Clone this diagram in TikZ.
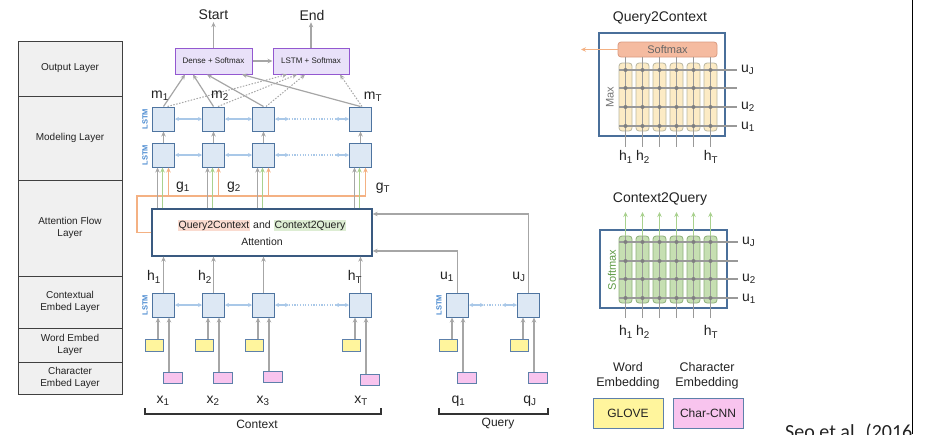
\documentclass[tikz,border=0pt]{standalone}
\usepackage{fontspec}
\setmainfont{Liberation Sans}
\newfontfamily\carlito{Carlito}
\usetikzlibrary{arrows.meta,calc}
\newcommand{\fsz}[2]{\fontsize{#1}{#2}\selectfont}
\setlength{\fboxsep}{1pt}
\definecolor{txt}{HTML}{222222}
\definecolor{lstmfill}{HTML}{DDE8F4}
\definecolor{lstmdraw}{HTML}{4E74A0}
\definecolor{lstmtxt}{HTML}{4A8AD0}
\definecolor{attdraw}{HTML}{3A5A80}
\definecolor{yel}{HTML}{FFF59D}
\definecolor{pnk}{HTML}{F8C4EE}
\definecolor{embdraw}{HTML}{5D80AA}
\definecolor{outfill}{HTML}{E9E1F9}
\definecolor{outdraw}{HTML}{9358D0}
\definecolor{org}{HTML}{F4B183}
\definecolor{barF}{HTML}{F5BBA0}
\definecolor{barD}{HTML}{D99A80}
\definecolor{grn}{HTML}{A9D18E}
\definecolor{arrgray}{HTML}{A6A6A6}
\definecolor{hblue}{HTML}{A9C8E8}
\definecolor{ycolF}{HTML}{FCEBC5}
\definecolor{ycolD}{HTML}{B9B6A0}
\definecolor{gcolF}{HTML}{C6DFB2}
\definecolor{gcolD}{HTML}{8DAE7A}
\definecolor{q2cbg}{HTML}{FADBD0}
\definecolor{c2qbg}{HTML}{DDEDD3}
\definecolor{panel}{HTML}{4A6F9A}
\definecolor{dotc}{HTML}{7F7F7F}
\definecolor{softg}{HTML}{5E9A45}
\tikzset{
  layerbox/.style={draw=black!75, fill=black!6, line width=0.9pt, minimum width=104pt, inner sep=0pt, align=center, text=txt, font=\fsz{10}{12.5}},
  lstmbox/.style={draw=lstmdraw, fill=lstmfill, line width=1pt, minimum width=22pt, minimum height=24pt, inner sep=0pt},
  lstmlab/.style={rotate=90, font=\fsz{7.5}{8}\bfseries, text=lstmtxt, inner sep=0pt},
  wemb/.style={draw=embdraw, fill=yel, line width=0.9pt, minimum width=18pt, minimum height=12pt, inner sep=0pt},
  cemb/.style={draw=embdraw, fill=pnk, line width=0.9pt, minimum width=19pt, minimum height=11pt, inner sep=0pt},
  outbox/.style={draw=outdraw, fill=outfill, line width=1pt, minimum height=26pt, inner sep=0pt, text=txt, font=\fsz{8}{10}},
  tip/.style={-{Stealth[length=5pt,width=4.5pt]}},
  garr/.style={draw=arrgray, line width=1.2pt, tip},
  gline/.style={draw=arrgray, line width=1.2pt},
  dotarr/.style={draw=arrgray, line width=1pt, dash pattern=on 1.5pt off 1.5pt, tip},
  grarr/.style={draw=grn, line width=1.2pt, tip},
  oarr/.style={draw=org, line width=1.2pt, tip},
  oline/.style={draw=org, line width=1.2pt},
  harr/.style={draw=hblue, line width=1.2pt, {Stealth[length=4pt,width=4pt]}-{Stealth[length=4pt,width=4pt]}},
  hdot/.style={draw=hblue, line width=1.2pt, dash pattern=on 1.2pt off 1.5pt},
  lab/.style={font=\fsz{14}{16}, inner sep=0pt, text=txt},
  brace/.style={draw=black!80, line width=1.2pt},
  colY/.style={draw=ycolD, fill=ycolF, rounded corners=3pt, line width=0.8pt, minimum width=13pt, inner sep=0pt},
  colG/.style={draw=gcolD, fill=gcolF, rounded corners=3pt, line width=0.8pt, minimum width=13pt, inner sep=0pt},
  pline/.style={draw=black!40, line width=1.2pt},
}
\begin{document}
\begin{tikzpicture}[x=1pt,y=-1pt]
\useasboundingbox (0,0) rectangle (928,434);

% ---------- layer column ----------
\node[layerbox, minimum height=55pt] (lOut) at (70,68.5) {Output Layer};
\node[layerbox, minimum height=84pt] (lMod) at (70,138) {Modeling Layer};
\node[layerbox, minimum height=96pt] (lAtt) at (70,228) {Attention Flow\\Layer};
\node[layerbox, minimum height=52pt] (lCtx) at (70,302) {Contextual\\Embed Layer};
\node[layerbox, minimum height=34pt] (lWrd) at (70,345) {Word Embed\\Layer};
\node[layerbox, minimum height=32pt] (lChr) at (70,378) {Character\\Embed Layer};

% ---------- output layer ----------
\node[outbox, minimum width=77pt] (dense) at (213.5,61) {Dense + Softmax};
\node[outbox, minimum width=76pt] (lstmsm) at (311,61) {LSTM + Softmax};
\node[font=\fsz{14}{16}, text=txt, inner sep=2pt] (start) at (213.5,15) {Start};
\node[font=\fsz{14}{16}, text=txt, inner sep=2pt] (end) at (312,15) {End};
\draw[garr] (dense.north) -- (start.south);
\draw[garr] (lstmsm.north) -- (lstmsm.north |- end.south);
\draw[garr] (dense.east) -- (lstmsm.west);

% ---------- context LSTMs and embeddings ----------
\foreach \i/\x in {1/163.5,2/213.5,3/263.5,4/360.5} {
  \node[lstmbox] (mt\i) at (\x,119) {};
  \node[lstmbox] (mb\i) at (\x,155) {};
  \node[lstmbox] (c\i) at (\x,305) {};
  \node[wemb] (w\i) at (\x-9.5,345) {};
  \draw[garr] ([xshift=4pt]w\i.north) -- ([xshift=-5.5pt]c\i.south);
  \draw[garr] (mb\i.north) -- (mt\i.south);
}
\foreach \i/\x/\y in {1/173/377.5,2/223/377.5,3/273/376.5,4/370/380} {
  \node[cemb] (ch\i) at (\x,\y) {};
  \draw[garr] ([xshift=-4pt]ch\i.north) -- ([xshift=5.5pt]c\i.south);
}
% query
\foreach \i/\x in {1/457.5,2/528.5} {
  \node[lstmbox] (q\i) at (\x,305) {};
  \node[wemb] (qw\i) at (\x-9.5,345.5) {};
  \node[cemb] (qch\i) at (\x+9.5,377.5) {};
  \draw[garr] ([xshift=4pt]qw\i.north) -- ([xshift=-5.5pt]q\i.south);
  \draw[garr] ([xshift=-4pt]qch\i.north) -- ([xshift=5.5pt]q\i.south);
}

% LSTM labels
\node[lstmlab] (lsA) at ([xshift=-7pt]mt1.west) {LSTM};
\node[lstmlab] (lsB) at ([xshift=-7pt]mb1.west) {LSTM};
\node[lstmlab] (lsC) at ([xshift=-7pt]c1.west) {LSTM};
\node[lstmlab] (lsD) at ([xshift=-7pt]q1.west) {LSTM};

% horizontal bidirectional arrows
\foreach \r in {mt,mb,c} {
  \draw[harr] (\r1.east) -- (\r2.west);
  \draw[harr] (\r2.east) -- (\r3.west);
  \draw[harr] (\r3.east) -- ([xshift=14pt]\r3.east);
  \draw[hdot] ([xshift=14pt]\r3.east) -- ([xshift=-14pt]\r4.west);
  \draw[harr] ([xshift=-14pt]\r4.west) -- (\r4.west);
}
\draw[harr] (q1.east) -- ([xshift=15pt]q1.east);
\draw[hdot] ([xshift=15pt]q1.east) -- ([xshift=-15pt]q2.west);
\draw[harr] ([xshift=-15pt]q2.west) -- (q2.west);

% modeling -> output
\draw[garr] (mt1.north) -- ([xshift=-28.5pt]dense.south);
\draw[garr] (mt2.north) -- ([xshift=-20.5pt]dense.south);
\draw[garr] (mt3.north) -- ([xshift=-6.5pt]dense.south);
\draw[garr] (mt4.north) -- ([xshift=28.5pt]dense.south);
\draw[dotarr] ([xshift=4pt]mt1.north) -- ([xshift=-24pt]lstmsm.south);
\draw[dotarr] ([xshift=4.5pt]mt2.north) -- ([xshift=-14pt]lstmsm.south);
\draw[dotarr] ([xshift=2.5pt]mt3.north) -- ([xshift=-6pt]lstmsm.south);
\draw[dotarr] ([xshift=1.5pt]mt4.north) -- ([xshift=29pt]lstmsm.south);

% ---------- attention ----------
\node[draw=attdraw, fill=white, line width=1.3pt, minimum width=220pt, minimum height=47pt, align=center, text=txt, font=\fsz{10.5}{17}] (att) at (262,232.5)
  {\colorbox{q2cbg}{Query2Context} and \colorbox{c2qbg}{Context2Query}\\Attention};

\coordinate (oA) at (137,196);
\foreach \i in {1,...,4} {
  \coordinate (ga\i) at ([xshift=-6pt]mb\i.south);
  \coordinate (gg\i) at ([xshift=-1pt]mb\i.south);
  \coordinate (go\i) at ([xshift=5pt]mb\i.south);
}
\draw[oline] (att.west) -| (oA) -- (go4 |- oA);
\foreach \i in {1,...,4} {
  \draw[garr] (ga\i |- att.north) -- (ga\i);
  \draw[grarr] (gg\i |- att.north) -- (gg\i);
  \draw[oarr] (go\i |- oA) -- (go\i);
  \draw[garr] (c\i.north) -- (c\i.north |- att.south);
}
\draw[garr] (q1.north) |- ([yshift=-18.5pt]att.east);
\draw[garr] (q2.north) |- ([yshift=18.5pt]att.east);

% ---------- labels ----------
\node[lab] (m1) at (160,96) {m\textsubscript{1}};
\node[lab] (m2) at (220,96) {m\textsubscript{2}};
\node[lab] (mT) at (373,97) {m\textsubscript{T}};
\node[lab] (g1) at (183,187) {g\textsubscript{1}};
\node[lab] (g2) at (234,187) {g\textsubscript{2}};
\node[lab] (gT) at (383,188) {g\textsubscript{T}};
\node[lab] (h1) at (154,277) {h\textsubscript{1}};
\node[lab] (h2) at (205,277) {h\textsubscript{2}};
\node[lab] (hT) at (355,277) {h\textsubscript{T}};
\node[lab] (u1) at (447,277) {u\textsubscript{1}};
\node[lab] (uJ) at (519,277) {u\textsubscript{J}};
\node[lab] (x1) at (163,401) {x\textsubscript{1}};
\node[lab] (x2) at (213,401) {x\textsubscript{2}};
\node[lab] (x3) at (263,401) {x\textsubscript{3}};
\node[lab] (xT) at (361,401) {x\textsubscript{T}};
\node[lab] (qa) at (458.5,401) {q\textsubscript{1}};
\node[lab] (qb) at (530,401) {q\textsubscript{J}};

% braces
\draw[brace] (145,408) -- (145,414) -- (381,414) -- (381,408);
\node[font=\fsz{12}{14}, text=txt] (ctxlab) at (257,424) {Context};
\draw[brace] (439,408) -- (439,414) -- (548,414) -- (548,408);
\node[font=\fsz{12}{14}, text=txt] (qlab) at (498,424) {Query};

% ---------- Query2Context panel ----------
\node[font=\fsz{14}{16}, text=txt] (q2ct) at (660,18) {Query2Context};
\node[draw=panel, line width=1.1pt, minimum width=126pt, minimum height=103pt, inner sep=0pt] (q2cbox) at (662,84.5) {};
\node[draw=barD, fill=barF, rounded corners=3pt, line width=0.8pt, minimum width=99pt, minimum height=15pt, inner sep=0pt, font=\fsz{11}{12}, text=black!60] (q2csm) at (667.5,49.5) {Softmax};
\foreach \k in {0,...,5} {
  \node[colY, minimum height=68pt] (qc\k) at (625.5+17*\k,97) {};
}
\foreach \k in {0,...,5} {
  \draw[pline] (625.5+17*\k,57) -- (625.5+17*\k,147);
}
\foreach \y in {70,88,107,126} {
  \draw[pline] (619,\y) -- (737,\y);
  \foreach \k in {0,...,5} { \fill[dotc] (625.5+17*\k,\y) circle (2pt); }
}
\node[rotate=90, font=\fsz{11}{12}, text=black!55] (maxl) at (610,97) {Max};
\coordinate (q2cout) at (581,49.5);
\draw[oarr] (q2csm.west) -- (q2cout);
\node[lab, anchor=west] (qu1) at (741,70) {u\textsubscript{J}};
\node[lab, anchor=west] (qu2) at (741,107) {u\textsubscript{2}};
\node[lab, anchor=west] (qu3) at (741,127) {u\textsubscript{1}};
\node[lab] (qh1) at (626,157) {h\textsubscript{1}};
\node[lab] (qh2) at (643,157) {h\textsubscript{2}};
\node[lab] (qhT) at (711,157) {h\textsubscript{T}};

% ---------- Context2Query panel ----------
\node[font=\fsz{14}{16}, text=txt] (c2qt) at (660,199) {Context2Query};
\node[draw=panel, line width=1.1pt, minimum width=127pt, minimum height=78pt, inner sep=0pt] (c2qbox) at (663.5,269) {};
\foreach \k in {0,...,5} {
  \node[colG, minimum height=67pt] (cc\k) at (625.5+17*\k,269.5) {};
}
\foreach \k in {0,...,5} {
  \draw[pline] (625.5+17*\k,318) -- (cc\k.north);
  \draw[grarr] (cc\k.north) -- (625.5+17*\k,212);
}
\foreach \y in {242,261,279,298} {
  \draw[pline] (619,\y) -- (738,\y);
  \foreach \k in {0,...,5} { \fill[dotc] (625.5+17*\k,\y) circle (2pt); }
}
\node[rotate=90, font=\fsz{11}{12}, text=softg] (smaxl) at (612,270) {Softmax};
\node[lab, anchor=west] (cu1) at (742,242) {u\textsubscript{J}};
\node[lab, anchor=west] (cu2) at (742,279) {u\textsubscript{2}};
\node[lab, anchor=west] (cu3) at (742,299) {u\textsubscript{1}};
\node[lab] (ch1l) at (626,332) {h\textsubscript{1}};
\node[lab] (ch2l) at (643,332) {h\textsubscript{2}};
\node[lab] (chTl) at (711,332) {h\textsubscript{T}};

% ---------- legend ----------
\node[align=center, font=\fsz{12.5}{15}, text=txt] (wel) at (628,376) {Word\\Embedding};
\node[align=center, font=\fsz{12.5}{15}, text=txt] (cel) at (707,376) {Character\\Embedding};
\node[draw=embdraw, fill=yel, line width=1pt, minimum width=70pt, minimum height=30pt, inner sep=0pt, font=\fsz{12}{14}, text=txt] (glove) at (628,413) {GLOVE};
\node[draw=embdraw, fill=pnk, line width=1pt, minimum width=70pt, minimum height=30pt, inner sep=0pt, font=\fsz{12}{14}, text=txt] (charcnn) at (708,413) {Char-CNN};

% ---------- citation and rule ----------
\begin{scope}
  \clip (0,0) rectangle (912.5,434);
  \node[anchor=base west, inner sep=0pt, font=\carlito\fsz{20}{22}, text=txt] (cite) at (785,438) {Seo et al. (2016)};
\end{scope}
\draw[black, line width=1pt] (912,0) -- (912,434);
\end{tikzpicture}
\end{document}
